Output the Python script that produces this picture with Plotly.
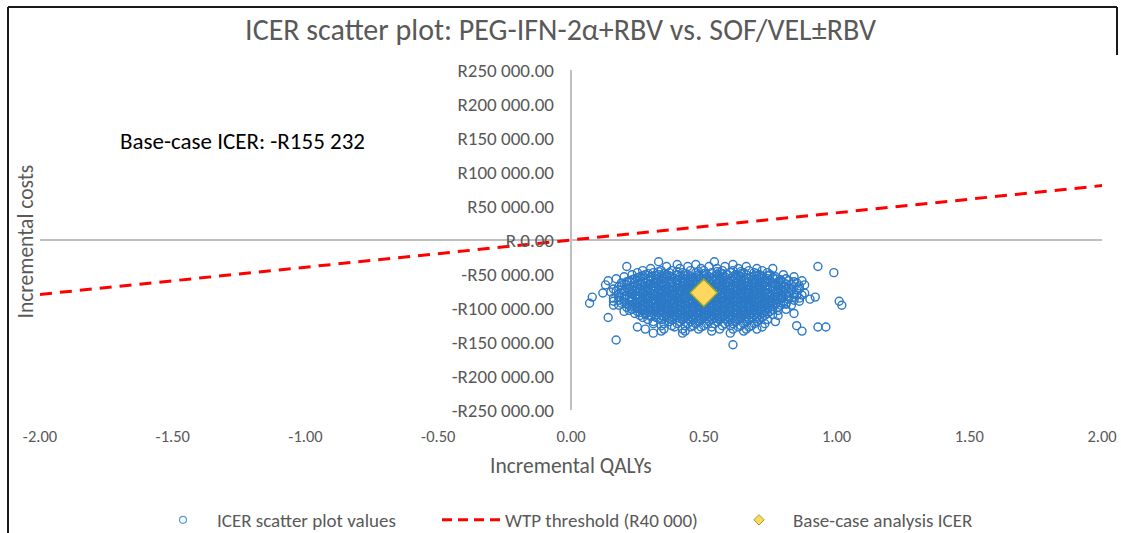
import plotly.graph_objects as go

# ---------------- data ----------------
title_text = "ICER scatter plot: PEG-IFN-2α+RBV vs. SOF/VEL±RBV"
x_title = "Incremental QALYs"
y_title = "Incremental costs"
icer_label = "Base-case ICER: -R155 232"

x_ticks = [-2.0, -1.5, -1.0, -0.5, 0.0, 0.5, 1.0, 1.5, 2.0]
x_ticktext = ["-2.00", "-1.50", "-1.00", "-0.50", "0.00", "0.50", "1.00", "1.50", "2.00"]
y_ticks = [250000, 200000, 150000, 100000, 50000, 0, -50000, -100000, -150000, -200000, -250000]
y_ticktext = ["R250 000.00", "R200 000.00", "R150 000.00", "R100 000.00", "R50 000.00", "R 0.00",
              "-R50 000.00", "-R100 000.00", "-R150 000.00", "-R200 000.00", "-R250 000.00"]

# WTP threshold line (R40 000 per QALY)
wtp_qaly = [-2.0, 2.0]
wtp_cost = [-80000, 80000]

# Base-case point
base_qaly = [0.50]
base_cost = [-77616]

# Probabilistic scatter values, grouped by cost row (thousands of rand)
cost_rows_k = [-32, -36, -39, -42, -45, -48, -51, -54, -57, -60, -63, -66, -69, -72, -75, -78,
               -81, -84, -87, -90, -93, -96, -99, -102, -105, -108, -111, -114, -117, -120,
               -123, -126, -128, -131, -134, -137, -147, -154]
qaly_rows = [
    [0.33, 0.54],
    [0.40, 0.47, 0.61],
    [0.21, 0.36, 0.44, 0.52, 0.58, 0.66, 0.93],
    [0.30, 0.41, 0.49, 0.55, 0.63, 0.70, 0.76],
    [0.27, 0.34, 0.38, 0.45, 0.50, 0.57, 0.61, 0.67, 0.72],
    [0.25, 0.31, 0.37, 0.42, 0.47, 0.53, 0.56, 0.60, 0.65, 0.69, 0.74, 0.99],
    [0.23, 0.28, 0.33, 0.36, 0.40, 0.44, 0.48, 0.51, 0.55, 0.59, 0.62, 0.66, 0.71, 0.75, 0.80],
    [0.20, 0.26, 0.30, 0.34, 0.38, 0.41, 0.45, 0.48, 0.52, 0.54, 0.58, 0.61, 0.64, 0.68, 0.72, 0.77, 0.84],
    [0.17, 0.24, 0.28, 0.32, 0.35, 0.39, 0.43, 0.46, 0.49, 0.53, 0.56, 0.60, 0.63, 0.67, 0.70, 0.74, 0.77, 0.81],
    [0.14, 0.22, 0.26, 0.30, 0.33, 0.37, 0.40, 0.44, 0.47, 0.50, 0.54, 0.57, 0.61, 0.64, 0.68, 0.71, 0.75, 0.79, 0.82, 0.87],
    [0.19, 0.24, 0.28, 0.31, 0.35, 0.38, 0.42, 0.45, 0.48, 0.52, 0.55, 0.59, 0.62, 0.66, 0.69, 0.73, 0.76, 0.80, 0.85],
    [0.13, 0.21, 0.25, 0.29, 0.33, 0.36, 0.40, 0.43, 0.46, 0.50, 0.53, 0.57, 0.60, 0.64, 0.67, 0.71, 0.74, 0.78, 0.83, 0.88],
    [0.18, 0.23, 0.27, 0.31, 0.34, 0.38, 0.41, 0.44, 0.48, 0.51, 0.55, 0.58, 0.62, 0.65, 0.69, 0.72, 0.76, 0.80, 0.84],
    [0.16, 0.22, 0.26, 0.29, 0.33, 0.36, 0.39, 0.43, 0.46, 0.49, 0.53, 0.56, 0.60, 0.63, 0.67, 0.70, 0.74, 0.78, 0.81, 0.86],
    [0.17, 0.20, 0.24, 0.28, 0.31, 0.35, 0.38, 0.41, 0.45, 0.48, 0.52, 0.55, 0.58, 0.62, 0.65, 0.69, 0.72, 0.76, 0.79, 0.83],
    [0.12, 0.19, 0.23, 0.27, 0.30, 0.34, 0.37, 0.40, 0.44, 0.47, 0.53, 0.57, 0.60, 0.64, 0.67, 0.71, 0.74, 0.78, 0.82, 0.88],
    [0.21, 0.25, 0.29, 0.32, 0.36, 0.39, 0.43, 0.46, 0.54, 0.58, 0.61, 0.65, 0.68, 0.72, 0.75, 0.79, 0.85, 0.87],
    [0.08, 0.18, 0.23, 0.27, 0.30, 0.34, 0.37, 0.41, 0.44, 0.48, 0.51, 0.55, 0.59, 0.62, 0.66, 0.69, 0.73, 0.77, 0.80, 0.84, 0.92],
    [0.20, 0.25, 0.28, 0.32, 0.35, 0.39, 0.42, 0.46, 0.49, 0.53, 0.56, 0.60, 0.63, 0.67, 0.70, 0.74, 0.78, 0.82, 0.90],
    [0.16, 0.22, 0.26, 0.30, 0.33, 0.37, 0.40, 0.44, 0.47, 0.51, 0.54, 0.58, 0.61, 0.65, 0.68, 0.72, 0.75, 0.80, 0.86, 1.01],
    [0.07, 0.19, 0.24, 0.28, 0.31, 0.35, 0.38, 0.42, 0.45, 0.49, 0.52, 0.56, 0.59, 0.63, 0.66, 0.70, 0.73, 0.77, 0.81],
    [0.16, 0.18, 0.22, 0.26, 0.29, 0.33, 0.36, 0.40, 0.43, 0.47, 0.50, 0.54, 0.57, 0.61, 0.64, 0.68, 0.71, 0.75, 0.79, 0.83, 1.02],
    [0.21, 0.25, 0.28, 0.32, 0.35, 0.39, 0.42, 0.46, 0.49, 0.53, 0.56, 0.60, 0.63, 0.67, 0.70, 0.74, 0.78],
    [0.23, 0.27, 0.30, 0.34, 0.37, 0.41, 0.44, 0.48, 0.51, 0.55, 0.58, 0.62, 0.65, 0.69, 0.72, 0.76, 0.81],
    [0.20, 0.25, 0.29, 0.32, 0.36, 0.39, 0.43, 0.46, 0.50, 0.53, 0.57, 0.60, 0.64, 0.67, 0.71, 0.75],
    [0.24, 0.28, 0.31, 0.35, 0.38, 0.42, 0.45, 0.49, 0.52, 0.56, 0.59, 0.63, 0.66, 0.70, 0.74, 0.84],
    [0.26, 0.30, 0.34, 0.37, 0.41, 0.44, 0.48, 0.51, 0.55, 0.58, 0.62, 0.65, 0.69, 0.73, 0.78],
    [0.14, 0.27, 0.32, 0.36, 0.40, 0.43, 0.47, 0.50, 0.54, 0.57, 0.61, 0.64, 0.68, 0.72],
    [0.29, 0.34, 0.38, 0.42, 0.46, 0.49, 0.53, 0.56, 0.60, 0.63, 0.67, 0.71, 0.74],
    [0.31, 0.37, 0.41, 0.45, 0.48, 0.52, 0.55, 0.59, 0.62, 0.66, 0.70, 0.77],
    [0.31, 0.35, 0.40, 0.44, 0.47, 0.51, 0.54, 0.58, 0.61, 0.65, 0.69, 0.73],
    [0.34, 0.38, 0.43, 0.46, 0.50, 0.57, 0.60, 0.64, 0.68, 0.85],
    [0.25, 0.39, 0.45, 0.49, 0.53, 0.63, 0.67, 0.72, 0.93, 0.96],
    [0.28, 0.35, 0.42, 0.48, 0.56, 0.61, 0.66, 0.70],
    [0.34, 0.43, 0.53, 0.65, 0.87],
    [0.31, 0.42, 0.60],
    [0.17],
    [0.61],
]

# Additional dense-core values (between the rows above)
cost_rows2_k = [-46.5, -49.5, -52.5, -55.5, -58.5, -61.5, -64.5, -67.5, -70.5, -73.5, -76.5, -79.5,
                -82.5, -85.5, -88.5, -91.5, -94.5, -97.5, -100.5, -103.5, -106.5, -109.5, -112.5, -115.5]
qaly_rows2 = [
    [0.33, 0.40, 0.48, 0.55, 0.64],
    [0.29, 0.35, 0.43, 0.50, 0.57, 0.64, 0.70],
    [0.27, 0.32, 0.37, 0.43, 0.50, 0.56, 0.63, 0.70, 0.74],
    [0.25, 0.30, 0.36, 0.42, 0.47, 0.51, 0.57, 0.62, 0.66, 0.71, 0.76],
    [0.23, 0.29, 0.34, 0.40, 0.45, 0.51, 0.55, 0.59, 0.65, 0.69, 0.73, 0.79],
    [0.21, 0.27, 0.32, 0.38, 0.42, 0.46, 0.52, 0.56, 0.59, 0.63, 0.67, 0.73, 0.78, 0.84],
    [0.20, 0.26, 0.30, 0.34, 0.40, 0.44, 0.47, 0.51, 0.55, 0.58, 0.64, 0.68, 0.72, 0.77, 0.81],
    [0.19, 0.24, 0.31, 0.35, 0.38, 0.42, 0.45, 0.49, 0.52, 0.56, 0.59, 0.62, 0.66, 0.70, 0.73, 0.79, 0.86],
    [0.21, 0.25, 0.29, 0.32, 0.36, 0.40, 0.43, 0.46, 0.50, 0.53, 0.57, 0.61, 0.64, 0.68, 0.71, 0.75, 0.82],
    [0.19, 0.23, 0.27, 0.30, 0.34, 0.37, 0.41, 0.44, 0.47, 0.51, 0.54, 0.57, 0.61, 0.64, 0.67, 0.71, 0.74, 0.78, 0.85],
    [0.15, 0.22, 0.26, 0.29, 0.33, 0.36, 0.39, 0.43, 0.46, 0.55, 0.59, 0.62, 0.66, 0.69, 0.73, 0.77, 0.80],
    [0.18, 0.23, 0.27, 0.31, 0.34, 0.38, 0.41, 0.45, 0.56, 0.60, 0.63, 0.67, 0.70, 0.74, 0.77, 0.81, 0.84],
    [0.20, 0.24, 0.28, 0.32, 0.35, 0.39, 0.42, 0.46, 0.49, 0.53, 0.57, 0.60, 0.64, 0.67, 0.71, 0.75, 0.78, 0.82],
    [0.16, 0.22, 0.26, 0.29, 0.33, 0.36, 0.40, 0.43, 0.47, 0.50, 0.54, 0.57, 0.61, 0.65, 0.68, 0.72, 0.76, 0.79, 0.86],
    [0.18, 0.23, 0.27, 0.31, 0.34, 0.38, 0.41, 0.45, 0.48, 0.52, 0.55, 0.59, 0.62, 0.66, 0.69, 0.73, 0.77, 0.84],
    [0.20, 0.25, 0.29, 0.32, 0.36, 0.39, 0.43, 0.46, 0.50, 0.53, 0.57, 0.60, 0.64, 0.67, 0.71, 0.75, 0.79],
    [0.21, 0.24, 0.27, 0.31, 0.34, 0.38, 0.41, 0.45, 0.48, 0.52, 0.55, 0.59, 0.62, 0.66, 0.69, 0.73, 0.77, 0.81],
    [0.23, 0.27, 0.30, 0.34, 0.37, 0.41, 0.44, 0.48, 0.51, 0.55, 0.58, 0.62, 0.65, 0.69, 0.72, 0.76],
    [0.25, 0.29, 0.32, 0.36, 0.39, 0.43, 0.46, 0.50, 0.53, 0.57, 0.60, 0.64, 0.67, 0.71, 0.74],
    [0.22, 0.27, 0.31, 0.34, 0.38, 0.41, 0.45, 0.48, 0.52, 0.55, 0.59, 0.62, 0.66, 0.69, 0.73, 0.78],
    [0.26, 0.30, 0.33, 0.37, 0.40, 0.44, 0.47, 0.51, 0.54, 0.58, 0.61, 0.65, 0.68, 0.72],
    [0.28, 0.32, 0.36, 0.39, 0.43, 0.46, 0.50, 0.53, 0.57, 0.60, 0.64, 0.67, 0.71, 0.76],
    [0.30, 0.35, 0.38, 0.42, 0.45, 0.49, 0.52, 0.56, 0.59, 0.63, 0.66, 0.70],
    [0.33, 0.37, 0.41, 0.44, 0.48, 0.51, 0.55, 0.58, 0.62, 0.66, 0.70],
]

legend_names = ["ICER scatter plot values", "WTP threshold (R40 000)", "Base-case analysis ICER"]

# ---------------- build ----------------
scatter_qaly = []
scatter_cost = []
for rows_k, rows_q in ((cost_rows_k, qaly_rows), (cost_rows2_k, qaly_rows2)):
    for ck, row in zip(rows_k, rows_q):
        for q in row:
            scatter_qaly.append(q)
            scatter_cost.append(ck * 1000)

FONT = "Carlito, Calibri, Lato, sans-serif"
GREY = "#595959"
BLUE = "#1b6ec2"

W, H = 1121, 533
# plot area in pixels: x 40..1102, y 70..410
L, R, T, B = 40, 1102, 70, 410
def px(xp):
    return (xp - L) / (R - L)
def py(yp):
    return (B - yp) / (B - T)

fig = go.Figure()

fig.add_trace(go.Scatter(
    x=scatter_qaly, y=scatter_cost, mode="markers", showlegend=False,
    marker=dict(symbol="circle-open", size=8, color=BLUE, line=dict(width=1.4, color=BLUE)),
    opacity=0.92, hoverinfo="skip"))

fig.add_trace(go.Scatter(
    x=wtp_qaly, y=wtp_cost, mode="lines", showlegend=False,
    line=dict(color="#FF0000", width=3, dash="12px,8px"), hoverinfo="skip"))

fig.add_trace(go.Scatter(
    x=base_qaly, y=base_cost, mode="markers", showlegend=False,
    marker=dict(symbol="diamond", size=21, color="#FFD75E", line=dict(width=1.5, color="#8DA82A")),
    hoverinfo="skip"))

# legend-only entries (small symbols like the original)
fig.add_trace(go.Scatter(x=[None], y=[None], mode="markers", name=legend_names[0],
    marker=dict(symbol="circle-open", size=7, color="#5B9BD5", line=dict(width=1.2, color="#5B9BD5"))))
fig.add_trace(go.Scatter(x=[None], y=[None], mode="lines", name=legend_names[1],
    line=dict(color="#FF0000", width=3, dash="10px,6px")))
fig.add_trace(go.Scatter(x=[None], y=[None], mode="markers", name=legend_names[2],
    marker=dict(symbol="diamond", size=8, color="#FFD75E", line=dict(width=1, color="#8DA82A"))))

fig.update_layout(
    width=W, height=H,
    margin=dict(l=L, r=W - R, t=T, b=H - B, autoexpand=False),
    paper_bgcolor="white", plot_bgcolor="white",
    font=dict(family=FONT, color=GREY, size=16),
    title=dict(text=title_text, x=0.5, xref="container", xanchor="center",
               y=1 - 29 / H, yref="container", yanchor="middle",
               font=dict(family=FONT, size=30, color=GREY)),
    xaxis=dict(range=[-2, 2], tickvals=x_ticks, ticktext=x_ticktext, showgrid=False,
               zeroline=True, zerolinecolor="#BFBFBF", zerolinewidth=1.5, showline=False,
               ticks="", ticklabelstandoff=14, automargin=False,
               tickfont=dict(family=FONT, size=16.5, color=GREY)),
    yaxis=dict(range=[-250000, 250000], tickvals=y_ticks, ticktext=y_ticktext, showgrid=False,
               zeroline=True, zerolinecolor="#BFBFBF", zerolinewidth=1.5, showline=False,
               ticks="", anchor="free", position=0.5, ticklabelstandoff=17, automargin=False,
               tickfont=dict(family=FONT, size=19, color=GREY)),
    legend=dict(orientation="h", x=px(149), xanchor="left", y=1 - 520 / H, yref="container",
                yanchor="middle", font=dict(family=FONT, size=19, color=GREY),
                entrywidth=215, entrywidthmode="pixels", itemwidth=58,
                bgcolor="rgba(0,0,0,0)"),
    showlegend=True,
)

fig.add_annotation(text=icer_label, xref="paper", yref="paper", x=px(242), y=py(141),
                   xanchor="center", yanchor="middle",
                   showarrow=False, font=dict(family=FONT, size=23, color="#000000"))
fig.add_annotation(text=x_title, xref="paper", yref="paper", x=px(571), y=py(466),
                   xanchor="center", yanchor="middle",
                   showarrow=False, font=dict(family=FONT, size=21.5, color=GREY))
fig.add_annotation(text=y_title, xref="paper", yref="paper", x=px(25), y=py(241.5),
                   xanchor="center", yanchor="middle",
                   textangle=-90, showarrow=False, font=dict(family=FONT, size=21.5, color=GREY))

# outer frame (left, top, short right piece)
frame = dict(color="#1a1a1a", width=2)
fig.add_shape(type="line", xref="paper", yref="paper", x0=px(8), x1=px(8), y0=py(7), y1=py(540), line=frame)
fig.add_shape(type="line", xref="paper", yref="paper", x0=px(8), x1=px(1117), y0=py(7), y1=py(7), line=frame)
fig.add_shape(type="line", xref="paper", yref="paper", x0=px(1117), x1=px(1117), y0=py(7), y1=py(55), line=frame)

# the page body has a default 8px margin; remove it so the figure fills the window exactly
fig.write_html("out.html", config={"displayModeBar": False},
               post_script="document.body.style.margin='0';document.body.style.overflow='hidden';")
